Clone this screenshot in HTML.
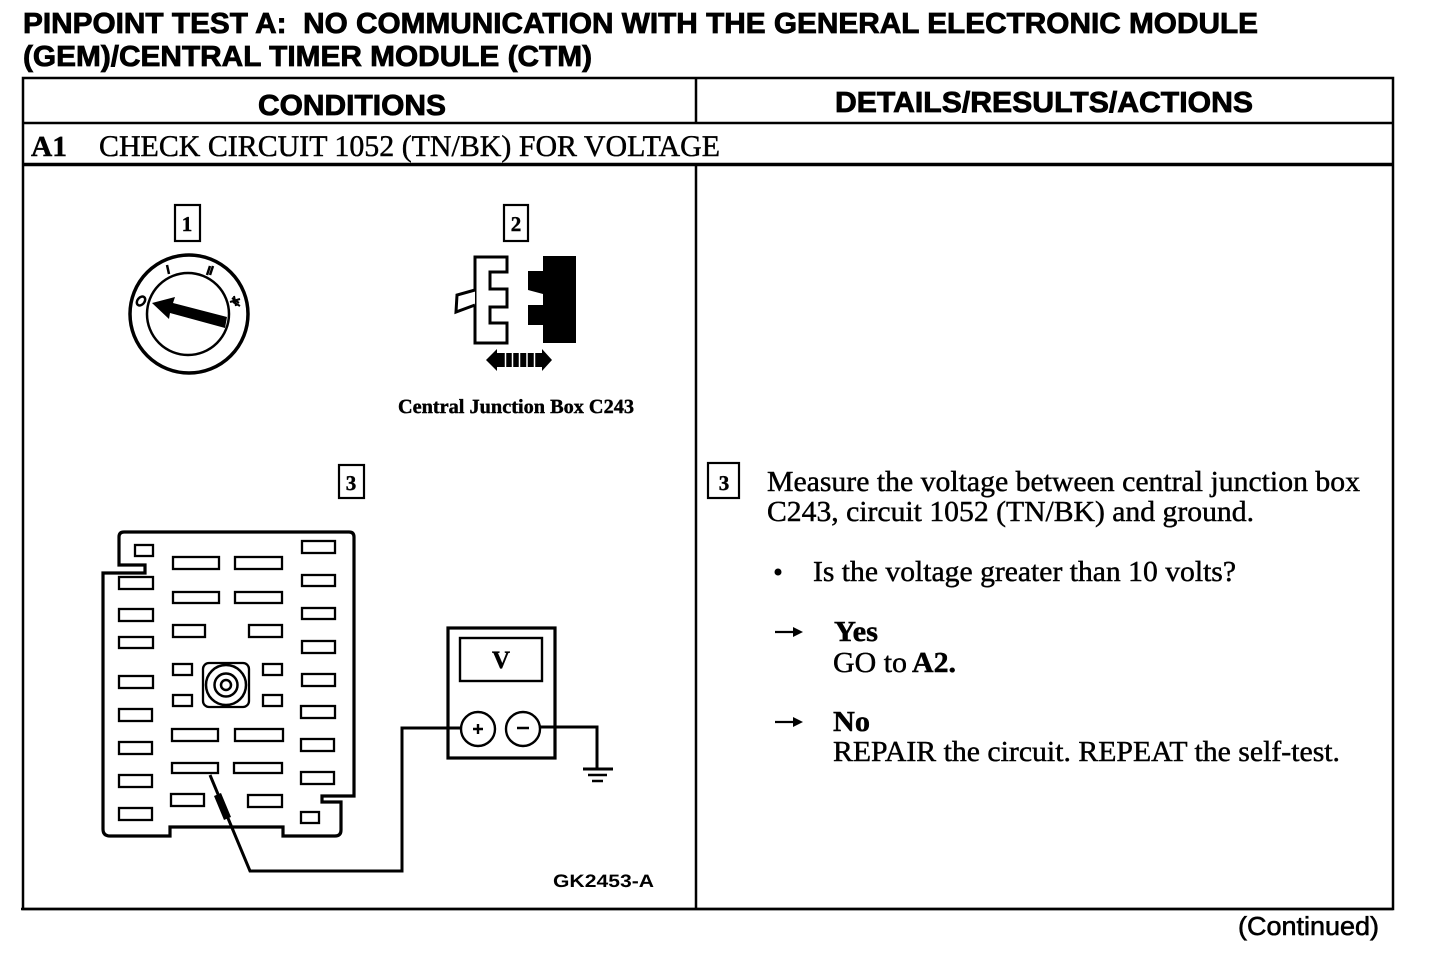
<!DOCTYPE html>
<html><head><meta charset="utf-8"><style>
html,body{margin:0;padding:0;background:#fff}
svg{display:block}
.s{font-family:"Liberation Sans",sans-serif;font-weight:700;fill:#000}
.f{font-family:"Liberation Serif",serif;fill:#000;stroke:#000;stroke-width:.45}
.b{font-weight:700}
.h{stroke:#000;stroke-width:.8}
</style></head><body>
<svg width="1440" height="960" viewBox="0 0 1440 960" xmlns="http://www.w3.org/2000/svg" text-rendering="geometricPrecision">
<rect width="1440" height="960" fill="#fff"/>
<g class="h">
<text class="s" x="23" y="33" font-size="29" textLength="1235" lengthAdjust="spacingAndGlyphs" xml:space="preserve">PINPOINT TEST A:  NO COMMUNICATION WITH THE GENERAL ELECTRONIC MODULE</text>
<text class="s" x="23" y="66" font-size="29" textLength="569" lengthAdjust="spacingAndGlyphs">(GEM)/CENTRAL TIMER MODULE (CTM)</text>
<text class="s" x="258" y="115" font-size="29" textLength="188" lengthAdjust="spacingAndGlyphs">CONDITIONS</text>
<text class="s" x="835" y="112" font-size="29" textLength="418" lengthAdjust="spacingAndGlyphs">DETAILS/RESULTS/ACTIONS</text>
</g>
<g fill="none" stroke="#000">
<rect x="23" y="78" width="1370" height="831" stroke-width="2.5"/>
<path d="M696 78V123M696 165V909" stroke-width="2.5"/>
<path d="M23 123H1393" stroke-width="2.5"/>
<path d="M23 164.500H1393" stroke-width="3.500"/>
<path d="M21 909H1393" stroke-width="2.5"/>
</g>
<text class="f b" x="31" y="156" font-size="29" textLength="36" lengthAdjust="spacingAndGlyphs">A1</text>
<text class="f" x="99" y="156" font-size="30" textLength="621" lengthAdjust="spacingAndGlyphs">CHECK CIRCUIT 1052 (TN/BK) FOR VOLTAGE</text>

<g fill="none" stroke="#000" stroke-width="2.2">
<rect x="175" y="205" width="25" height="36"/>
<rect x="504" y="205" width="24" height="36"/>
<rect x="339" y="465" width="25" height="33"/>
<rect x="708" y="463" width="31" height="35"/>
</g>
<g class="f b" text-anchor="middle" font-size="21">
<text x="187" y="231">1</text><text x="516" y="231">2</text><text x="351" y="490">3</text><text x="724" y="490">3</text>
</g>

<!-- key dial -->
<g fill="none" stroke="#000">
<circle cx="189" cy="314" r="59" stroke-width="3.500"/>
<circle cx="188" cy="314" r="41" stroke-width="2.5"/>
<path d="M167 265L169 274M210 266L207 275M213 266L210 275" stroke-width="2.500"/>
<ellipse cx="141" cy="301" rx="3.500" ry="5" transform="rotate(40 141 301)" stroke-width="2.500"/>
<path d="M232 298L239 303M233 302L240 306M234 296L236 306M230 302l10-3" stroke-width="2"/>
</g>
<polygon points="152,303 175,297 173,303 227,317 225,328 170,313 169,319" fill="#000"/>

<!-- connector -->
<path d="M475 257H507V272H490V289H507V307H490V323H507V343H475Z" fill="#fff" stroke="#000" stroke-width="3"/>
<path d="M475 290L457 295L456 312L475 305" fill="#fff" stroke="#000" stroke-width="3"/>
<path d="M543 256H576V343H543V325H528V305H543V294L528 290V271H543Z" fill="#000"/>
<path d="M486 360L497 349V371ZM552 360L542 349V371Z" fill="#000"/>
<path d="M497 353H542V367H497Z" fill="#000"/>
<path d="M505.500 352V368M512.500 352V368M519.500 352V368M527 352V368M534.500 352V368" stroke="#fff" stroke-width="1.500"/>
<text class="f b" x="398" y="413" font-size="20" textLength="236" lengthAdjust="spacingAndGlyphs">Central Junction Box C243</text>

<!-- fuse box -->
<path d="M124 532H349Q354 532 354 537V796H322V802H341V830Q341 836 335 836H283V827H170V836H110Q103 836 103 829V573H145V565H119V537Q119 532 124 532Z" fill="none" stroke="#000" stroke-width="3.200"/>
<g fill="#fff" stroke="#000" stroke-width="2.300">
<rect x="135" y="545" width="18" height="11"/>
<rect x="173" y="557" width="46" height="12"/><rect x="235" y="557" width="47" height="12"/>
<rect x="302" y="541" width="33" height="12"/><rect x="302" y="575" width="33" height="11"/>
<rect x="119" y="577" width="34" height="12"/>
<rect x="173" y="592" width="46" height="11"/><rect x="235" y="592" width="47" height="11"/>
<rect x="119" y="609" width="34" height="12"/><rect x="302" y="608" width="33" height="11"/>
<rect x="173" y="625" width="32" height="12"/><rect x="249" y="625" width="33" height="12"/>
<rect x="119" y="637" width="34" height="11"/><rect x="302" y="641" width="33" height="12"/>
<rect x="173" y="664" width="19" height="11"/><rect x="263" y="664" width="19" height="11"/>
<rect x="119" y="676" width="34" height="12"/><rect x="302" y="674" width="33" height="12"/>
<rect x="173" y="695" width="19" height="11"/><rect x="263" y="695" width="19" height="11"/>
<rect x="119" y="709" width="33" height="12"/><rect x="301" y="706" width="34" height="12"/>
<rect x="172" y="729" width="46" height="12"/><rect x="235" y="729" width="48" height="12"/>
<rect x="119" y="742" width="33" height="12"/><rect x="301" y="739" width="33" height="12"/>
<rect x="172" y="763" width="46" height="10"/><rect x="234" y="763" width="48" height="10"/>
<rect x="119" y="775" width="33" height="12"/><rect x="301" y="772" width="33" height="12"/>
<rect x="171" y="794" width="33" height="12"/><rect x="248" y="795" width="34" height="12"/>
<rect x="119" y="808" width="33" height="12"/><rect x="301" y="812" width="18" height="11"/>
</g>
<g fill="none" stroke="#000" stroke-width="2.300">
<rect x="203" y="663" width="46" height="44" rx="6"/>
<circle cx="226" cy="685" r="20" stroke-width="2.500"/>
<circle cx="226" cy="685" r="11.500" stroke-width="2.500"/>
<circle cx="226" cy="685" r="5" stroke-width="2.500"/>
</g>
<!-- probe -->
<path d="M210 775L250 871H402V728H460" fill="none" stroke="#000" stroke-width="3"/>
<path d="M214 796L221 793L231 817L224 820Z" fill="#000"/>
<!-- meter -->
<g fill="none" stroke="#000">
<rect x="448" y="628" width="107" height="130" stroke-width="3.200"/>
<rect x="460" y="638" width="82" height="43" stroke-width="2.400"/>
<path d="M540 727H597V769" stroke-width="3"/>
<path d="M583 769H613" stroke-width="3"/><path d="M588 775H607" stroke-width="2.500"/><path d="M592 781H603" stroke-width="2.500"/>
<circle cx="478" cy="729" r="17" fill="#fff" stroke-width="2.400"/>
<circle cx="523" cy="729" r="17" fill="#fff" stroke-width="2.400"/>
<path d="M473 729H483M478 724V734M517 728H529" stroke-width="2.400"/>
</g>
<text class="f b" x="501" y="668" font-size="25" text-anchor="middle">V</text>
<text class="s" x="553" y="887" font-size="18" textLength="101" lengthAdjust="spacingAndGlyphs">GK2453-A</text>

<!-- right column -->
<text class="f" x="767" y="491" font-size="29" textLength="593" lengthAdjust="spacingAndGlyphs">Measure the voltage between central junction box</text>
<text class="f" x="767" y="521" font-size="29" textLength="487" lengthAdjust="spacingAndGlyphs">C243, circuit 1052 (TN/BK) and ground.</text>
<circle cx="778" cy="572" r="3.500" fill="#000"/>
<text class="f" x="813" y="581" font-size="29" textLength="423" lengthAdjust="spacingAndGlyphs">Is the voltage greater than 10 volts?</text>
<g fill="#000" stroke="#000">
<path d="M775 632H797" stroke-width="2.200"/><path d="M803 632L793 627V637Z" stroke="none"/>
<path d="M775 722H797" stroke-width="2.200"/><path d="M803 722L793 717V727Z" stroke="none"/>
</g>
<text class="f b" x="834" y="641" font-size="29" textLength="44" lengthAdjust="spacingAndGlyphs">Yes</text>
<text class="f" x="833" y="672" font-size="29" textLength="74" lengthAdjust="spacingAndGlyphs">GO to</text>
<text class="f b" x="912" y="672" font-size="29" textLength="44" lengthAdjust="spacingAndGlyphs">A2.</text>
<text class="f b" x="833" y="731" font-size="29" textLength="37" lengthAdjust="spacingAndGlyphs">No</text>
<text class="f" x="833" y="761" font-size="29" textLength="507" lengthAdjust="spacingAndGlyphs">REPAIR the circuit. REPEAT the self-test.</text>
<text class="s" style="font-weight:400" x="1238" y="935" font-size="26" textLength="141" lengthAdjust="spacingAndGlyphs" stroke="#000" stroke-width=".6">(Continued)</text>
</svg>
</body></html>
